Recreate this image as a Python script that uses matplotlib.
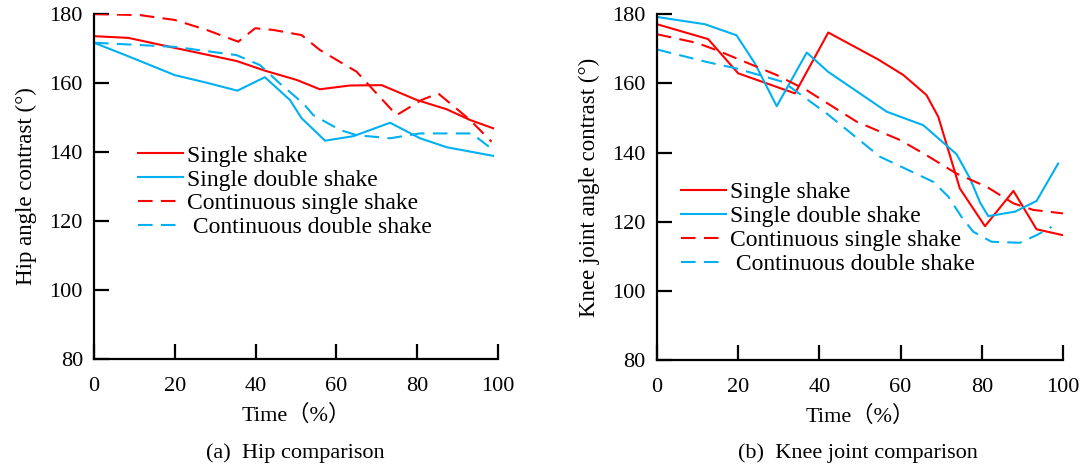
import numpy as np
import matplotlib
matplotlib.use('Agg')
import matplotlib.pyplot as plt

plt.rcParams['font.family'] = ['Liberation Serif', 'Noto Sans CJK SC']
plt.rcParams['mathtext.fontset'] = 'stix'

# Hip data
hip_ss_x = [0, 8.5, 20, 35.3, 42.3, 50.2, 55.9, 63.4, 71.2, 79.9, 87.3, 93.1, 98.8]
hip_ss_y = [173.6, 173.1, 170.2, 166.4, 163.6, 160.9, 158.2, 159.3, 159.4, 155.1, 152.4, 149.3, 146.9]
hip_sd_x = [0, 9.7, 20, 27.9, 35.5, 42.3, 48.5, 51.4, 57.2, 64.2, 73.3, 80.7, 87.3, 98.8]
hip_sd_y = [171.7, 167.2, 162.3, 160.1, 157.8, 161.7, 155.1, 149.8, 143.3, 144.6, 148.5, 144.0, 141.4, 138.9]
hip_cs_x = [0, 11.4, 20, 27.9, 35.7, 39.9, 44.4, 51.4, 55.9, 65.0, 74.9, 81.1, 85.2, 93.1, 98.4]
hip_cs_y = [180.0, 179.7, 178.3, 175.4, 172.0, 175.9, 175.4, 173.9, 169.6, 163.3, 150.7, 155.1, 157.0, 149.3, 143.0]
hip_cd_x = [0, 20, 35.3, 41.1, 46.0, 51.8, 54.3, 60.9, 65.0, 73.3, 80.7, 93.5, 98.8]
hip_cd_y = [171.7, 170.5, 168.1, 165.2, 159.9, 154.1, 150.7, 146.4, 144.9, 144.0, 145.4, 145.4, 140.6]

# Knee data
knee_ss_x = [0, 12.6, 20.0, 34.0, 42.2, 54.5, 60.7, 66.4, 69.3, 74.6, 80.8, 87.8, 93.5, 100]
knee_ss_y = [177.1, 172.8, 162.9, 157.1, 174.7, 166.9, 162.4, 156.6, 150.3, 129.6, 118.7, 128.9, 117.8, 116.1]
knee_sd_x = [0, 11.8, 19.6, 24.1, 29.5, 36.9, 42.2, 56.6, 65.6, 73.8, 77.1, 79.6, 81.6, 88.2, 93.5, 98.8]
knee_sd_y = [179.2, 177.1, 173.9, 165.8, 153.4, 168.9, 163.3, 151.8, 147.9, 139.5, 132.5, 125.5, 121.6, 122.9, 126.0, 136.8]
knee_cs_x = [0, 9.8, 14.7, 29.5, 36.9, 49.2, 59.9, 66.4, 73.8, 81.2, 87.8, 92.7, 100]
knee_cs_y = [174.2, 171.7, 169.6, 162.4, 158.0, 148.9, 143.6, 139.2, 133.9, 130.1, 125.3, 123.4, 122.4]
knee_cd_x = [0, 12.2, 19.6, 31.1, 41.8, 54.9, 68.1, 71.8, 75.0, 77.9, 82.4, 89.4, 93.5, 97.2]
knee_cd_y = [169.8, 166.2, 164.3, 160.4, 151.3, 138.8, 131.5, 127.2, 121.4, 117.1, 114.2, 113.9, 116.1, 118.5]

labels = ['Single shake', 'Single double shake', 'Continuous single shake', ' Continuous double shake']
xticks = [0, 20, 40, 60, 80, 100]
yticks = [80, 100, 120, 140, 160, 180]

red = '#FF0000'
blue = '#00B0F0'

fig = plt.figure(figsize=(10.83, 4.68), dpi=100)
ax1 = fig.add_axes([0.0868, 0.2329, 0.373, 0.737])
ax2 = fig.add_axes([0.6066, 0.2307, 0.3749, 0.739])


def draw(ax, data, ylabel, leg_pos):
    (x1, y1), (x2, y2), (x3, y3), (x4, y4) = data
    ax.plot(x1, y1, color=red, lw=1.5, label=labels[0])
    ax.plot(x2, y2, color=blue, lw=1.5, label=labels[1])
    ax.plot(x3, y3, color=red, lw=1.5, dashes=(7, 4), label=labels[2])
    ax.plot(x4, y4, color=blue, lw=1.5, dashes=(7, 4), label=labels[3])
    ax.set_xlim(0, 100)
    ax.set_ylim(80, 180)
    ax.set_xticks(xticks)
    ax.set_yticks(yticks)
    for s in ['top', 'right']:
        ax.spines[s].set_visible(False)
    for s in ['left', 'bottom']:
        ax.spines[s].set_linewidth(1.6)
    ax.tick_params(direction='in', length=11, width=1.6, labelsize=16)
    ax.tick_params(axis='x', pad=13)
    ax.tick_params(axis='y', pad=8)
    ax.set_xlabel('Time（%）', fontsize=16, labelpad=6)
    ax.set_ylabel(ylabel, fontsize=16.5, labelpad=9)
    ax.legend(loc='upper left', bbox_to_anchor=leg_pos, frameon=False, fontsize=17,
              handlelength=1.9, handletextpad=0.15, labelspacing=0.1,
              borderpad=0, borderaxespad=0)


draw(ax1, [(hip_ss_x, hip_ss_y), (hip_sd_x, hip_sd_y), (hip_cs_x, hip_cs_y), (hip_cd_x, hip_cd_y)],
     'Hip angle contrast (°)', (0.11, 0.62))
draw(ax2, [(knee_ss_x, knee_ss_y), (knee_sd_x, knee_sd_y), (knee_cs_x, knee_cs_y), (knee_cd_x, knee_cd_y)],
     'Knee joint angle contrast (°)', (0.06, 0.515))

fig.text(0.2725, 0.022, '(a)  Hip comparison', ha='center', fontsize=16)
fig.text(0.792, 0.022, '(b)  Knee joint comparison', ha='center', fontsize=16)

fig.savefig('out.png', dpi=100)
